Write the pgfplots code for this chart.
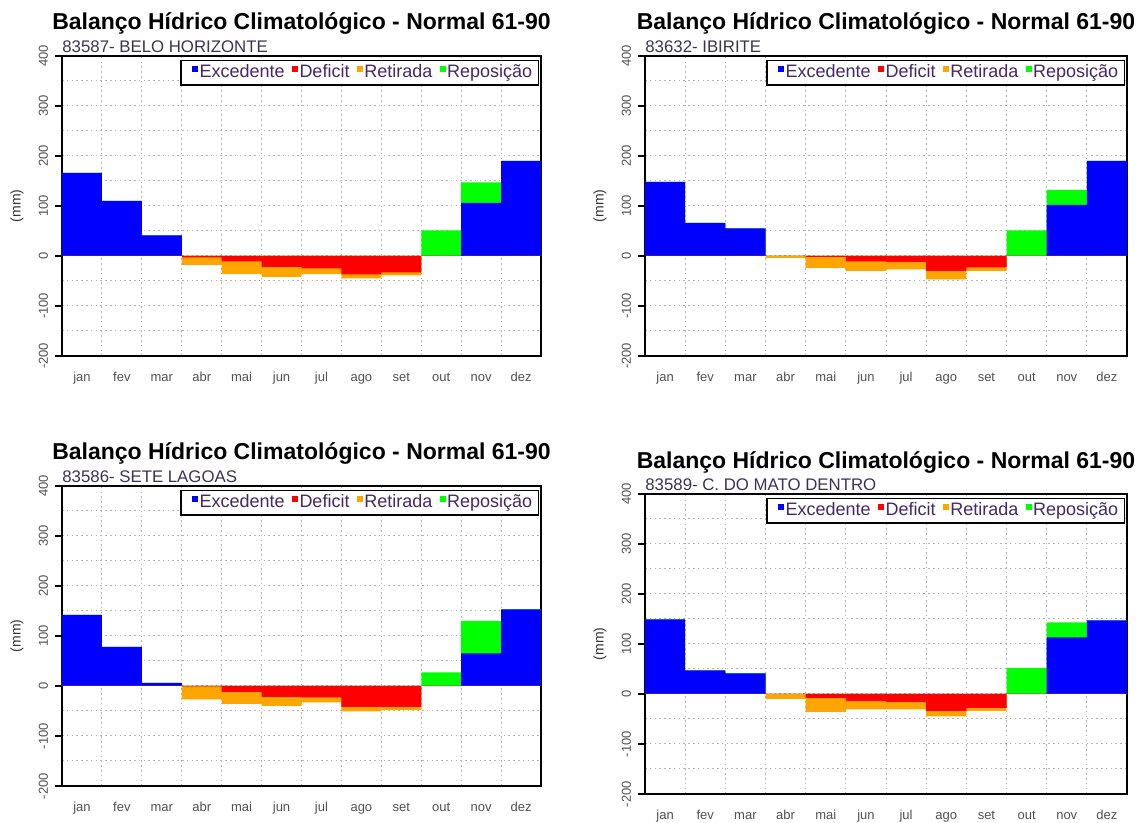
\documentclass[border=0pt]{standalone}
\usepackage{pgfplots}
\pgfplotsset{compat=1.18}
\usepackage{pgfplotstable}
\usepackage{fontspec}
\setmainfont{Liberation Sans}
\definecolor{exc}{RGB}{0,0,255}
\definecolor{dfc}{RGB}{255,0,0}
\definecolor{ret}{RGB}{255,165,0}
\definecolor{rep}{RGB}{0,255,0}
\definecolor{lgd}{RGB}{70,40,100}
\definecolor{stn}{RGB}{60,50,85}
\definecolor{tck}{RGB}{80,80,80}

% exc = Excedente, rep = top of Reposicao bar, def = Deficit, ret = bottom of Retirada bar
\pgfplotstableread{
m exc rep def ret
1 166 166 0 0
2 110 110 0 0
3 41 41 0 0
4 0 0 -3 -18
5 0 0 -11 -36
6 0 0 -22 -42
7 0 0 -25 -36
8 0 0 -37 -45
9 0 0 -33 -39
10 0 51 0 0
11 106 147 0 0
12 190 190 0 0
}\tabA
\pgfplotstableread{
m exc rep def ret
1 148 148 0 0
2 66 66 0 0
3 55 55 0 0
4 0 0 0 -4
5 0 0 -2 -24
6 0 0 -11 -30
7 0 0 -12 -27
8 0 0 -30 -47
9 0 0 -23 -30
10 0 51 0 0
11 102 132 0 0
12 190 190 0 0
}\tabB
\pgfplotstableread{
m exc rep def ret
1 142 142 0 0
2 78 78 0 0
3 6 6 0 0
4 0 0 -1 -27
5 0 0 -12 -36
6 0 0 -22 -40
7 0 0 -23 -33
8 0 0 -42 -51
9 0 0 -42 -48
10 0 27 0 0
11 65 130 0 0
12 153 153 0 0
}\tabC
\pgfplotstableread{
m exc rep def ret
1 149 149 0 0
2 47 47 0 0
3 41 41 0 0
4 0 0 0 -10
5 0 0 -8 -36
6 0 0 -14 -31
7 0 0 -16 -31
8 0 0 -34 -45
9 0 0 -28 -34
10 0 52 0 0
11 113 143 0 0
12 147 147 0 0
}\tabD

\pgfplotsset{
 bh/.style={
  scale only axis, height=150pt, clip=false,
  xmin=0.5, xmax=12.5, ymin=-200, ymax=400,
  xtick={1,...,12},
  xticklabels={jan,fev,mar,abr,mai,jun,jul,ago,set,out,nov,dez},
  ytick={-200,-100,0,100,200,300,400},
  yticklabels={-200,-100,0,100,200,300,400},
  minor xtick={1.5,2.5,...,11.5},
  minor ytick={-150,-50,50,150,250,350},
  xmajorgrids=false, xminorgrids=true, ymajorgrids=true, yminorgrids=true,
  major grid style={line width=0.5pt, black!30, dash pattern=on 0.8pt off 1.6pt},
  minor grid style={line width=0.5pt, black!30, dash pattern=on 0.8pt off 1.6pt},
  tick align=outside, major tick length=3.5pt, minor tick length=0pt,
  xtick pos=bottom, ytick pos=left,
  xtick style={draw=none},
  ytick style={black, line width=0.6pt},
  axis line style={line width=0.6pt, black},
  ticklabel style={font=\fontsize{6.5}{7}\selectfont, text=tck},
  xticklabel style={anchor=base, yshift=-9.5pt},
  yticklabel style={rotate=90, anchor=south},
  ybar, bar width=1, bar shift=0pt,
  title style={font=\fontsize{11.5}{13}\selectfont\bfseries, at={(0.5,1)}, anchor=base, yshift=7pt},
  title={Balanço Hídrico Climatológico - Normal 61-90},
  legend columns=4,
  legend image code/.code={\path[draw=none,fill=none] (0pt,0pt) -- (3pt,0pt); \fill[##1, draw=none] (3pt,0.2pt) rectangle (6.2pt,3.4pt);},
  legend style={at={(rel axis cs:1,1)}, anchor=north east, xshift=-1pt, yshift=-2pt,
    draw=black, line width=0.6pt, fill=white, inner xsep=2.5pt, inner ysep=1.5pt,
    font=\fontsize{9}{10}\selectfont, text=lgd,
    /tikz/every even column/.append style={column sep=0pt},
    nodes={inner sep=0.6pt}},
 },
}
\newcommand{\bars}[2]{%
  \addplot[fill=rep, draw=none, forget plot] table[x=m,y=rep]{#1};
  \addplot[fill=exc, draw=none, forget plot] table[x=m,y=exc]{#1};
  \addplot[fill=ret, draw=none, forget plot] table[x=m,y=ret]{#1};
  \addplot[fill=dfc, draw=none, forget plot] table[x=m,y=def]{#1};
  \addlegendimage{fill=exc}\addlegendentry{Excedente}
  \addlegendimage{fill=dfc}\addlegendentry{Deficit}
  \addlegendimage{fill=ret}\addlegendentry{Retirada}
  \addlegendimage{fill=rep}\addlegendentry{Reposição}
  \node[anchor=base west, inner sep=0pt, font=\fontsize{8.4}{9}\selectfont, text=stn] at ([yshift=1.5pt]rel axis cs:0,1) {#2};
  \node[rotate=90, inner sep=0pt, font=\fontsize{7}{8}\selectfont, text=black!80] at ([xshift=-22.5pt]rel axis cs:0,0.5) {(mm)};
}

\begin{document}
\begin{tikzpicture}
\useasboundingbox (0,0) rectangle (572.5pt,411.5pt);
\begin{axis}[bh, width=239.5pt, at={(31pt,233.5pt)}, anchor=south west]
\bars{\tabA}{83587- BELO HORIZONTE}
\end{axis}
\begin{axis}[bh, width=241pt, at={(322.5pt,233.5pt)}, anchor=south west]
\bars{\tabB}{83632- IBIRITE}
\end{axis}
\begin{axis}[bh, width=239.5pt, at={(31pt,18.5pt)}, anchor=south west]
\bars{\tabC}{83586- SETE LAGOAS}
\end{axis}
\begin{axis}[bh, width=241pt, at={(322.5pt,14.5pt)}, anchor=south west, title style={yshift=-0.5pt}]
\bars{\tabD}{83589- C. DO MATO DENTRO}
\end{axis}
\end{tikzpicture}
\end{document}
